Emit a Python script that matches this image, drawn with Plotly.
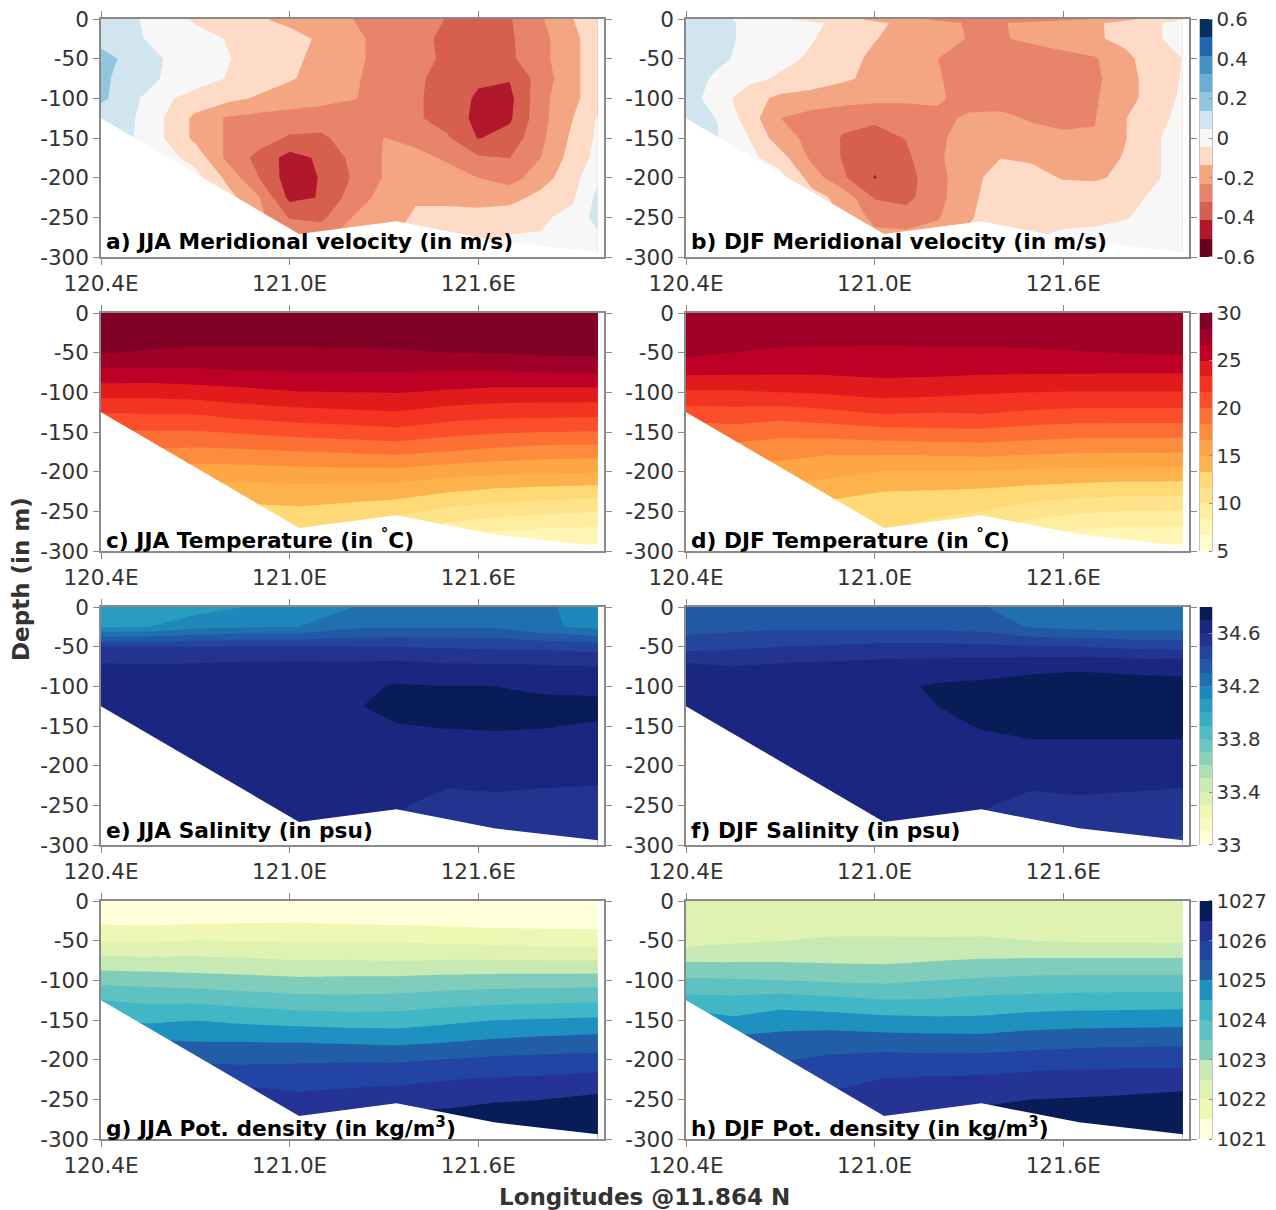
import plotly.graph_objects as go
from plotly.colors import sample_colorscale

depths = [0, -25, -50, -75, -100, -125, -150, -175, -200, -225, -250, -275, -300]
depths_djf_velocity = [0, -5, -25, -50, -75, -100, -125, -150, -175, -200, -225, -250, -275, -300]
lon_fine = [120.4, 120.5, 120.6, 120.7, 120.8, 120.9, 121.0, 121.1, 121.2, 121.3, 121.4, 121.5, 121.6, 121.7, 121.8, 121.9, 121.98]
lon_coarse = [120.4, 120.55, 120.7, 120.85, 121.03, 121.2, 121.34, 121.5, 121.65, 121.8, 121.98]
seafloor_lon = [120.4, 120.71, 121.03, 121.34, 121.65, 121.98]
seafloor_depth = [-125, -197, -271, -255, -279, -294]

jja_velocity = [
    [.10, .06, .00, -.06, -.09, -.13, -.16, -.20, -.23, -.27, -.30, -.325, -.34, -.33, -.24, -.14, -.09],
    [.11, .055, .03, -.01, -.05, -.08, -.11, -.15, -.21, -.26, -.30, -.34, -.36, -.335, -.26, -.16, -.09],
    [.17, .11, .045, .0, -.04, -.08, -.12, -.16, -.21, -.26, -.30, -.335, -.37, -.34, -.26, -.16, -.09],
    [.16, .09, .04, -.005, -.05, -.09, -.13, -.17, -.22, -.26, -.31, -.35, -.40, -.41, -.28, -.16, -.09],
    [.16, .07, -.03, -.08, -.11, -.15, -.18, -.20, -.225, -.26, -.31, -.36, -.43, -.44, -.26, -.16, -.09],
    [.07, .055, -.046, -.16, -.24, -.26, -.27, -.28, -.29, -.29, -.31, -.36, -.44, -.43, -.26, -.14, -.04],
    [.06, .05, -.046, -.16, -.24, -.28, -.335, -.34, -.28, -.23, -.25, -.31, -.42, -.38, -.25, -.12, -.03],
    [0, 0, -.01, -.08, -.25, -.35, -.45, -.40, -.30, -.225, -.21, -.24, -.31, -.325, -.23, -.10, -.02],
    [0, 0, 0, -.01, -.16, -.32, -.46, -.41, -.315, -.225, -.19, -.20, -.231, -.27, -.18, -.08, .03],
    [0, 0, 0, -.02, -.1, -.22, -.44, -.41, -.28, -.20, -.145, -.16, -.18, -.17, -.11, -.06, .07],
    [0, 0, 0, -.02, -.1, -.2, -.33, -.345, -.23, -.17, -.13, -.11, -.1, -.09, -.06, -.02, .08],
    [0, 0, 0, -.01, -.05, -.12, -.25, -.26, -.18, -.15, -.12, -.09, -.06, -.04, -.04, -.01, .03],
    [0, 0, 0, 0, -.02, -.05, -.1, -.1, -.08, -.06, -.05, -.03, -.02, -.02, -.02, -.01, .01],
]
djf_velocity = [
    [.08, .06, .03, -.03, -.08, -.11, -.16, -.2, -.25, -.28, -.3, -.3, -.27, -.22, -.16, -.1, -.05],
    [.09, .07, .03, .0, -.03, -.07, -.12, -.16, -.2, -.24, -.24, -.2, -.17, -.15, -.11, -.05, -.03],
    [.1, .07, .03, .0, -.04, -.09, -.135, -.165, -.2, -.235, -.24, -.21, -.175, -.15, -.115, -.05, -.03],
    [.1, .065, .02, -.02, -.06, -.11, -.155, -.195, -.23, -.26, -.28, -.29, -.27, -.24, -.16, -.08, -.045],
    [.09, .03, -.02, -.06, -.09, -.125, -.16, -.2, -.225, -.26, -.29, -.3, -.28, -.25, -.17, -.09, -.04],
    [.09, .0, -.1, -.16, -.175, -.19, -.205, -.215, -.225, -.245, -.27, -.29, -.28, -.24, -.17, -.09, -.03],
    [.06, .045, -.09, -.23, -.27, -.3, -.31, -.28, -.24, -.225, -.21, -.24, -.26, -.235, -.14, -.07, -.02],
    [.05, .05, -.046, -.19, -.26, -.33, -.35, -.32, -.24, -.21, -.19, -.2, -.21, -.225, -.14, -.05, -.02],
    [0, 0, -.02, -.1, -.25, -.33, -.39, -.34, -.25, -.16, -.14, -.15, -.17, -.18, -.13, -.05, -.02],
    [0, 0, 0, -.01, -.18, -.31, -.42, -.36, -.26, -.17, -.1, -.11, -.145, -.15, -.12, -.05, -.02],
    [0, 0, 0, -.01, -.1, -.17, -.33, -.35, -.26, -.16, -.09, -.09, -.09, -.085, -.07, -.03, -.02],
    [0, 0, 0, -.01, -.08, -.15, -.26, -.28, -.24, -.15, -.08, -.08, -.07, -.06, -.05, -.02, .05],
    [0, 0, 0, 0, -.02, -.1, -.2, -.2, -.18, -.12, -.08, -.05, -.03, -.03, -.02, -.01, 0],
    [0, 0, 0, 0, -.01, -.04, -.08, -.08, -.07, -.05, -.03, -.02, -.01, -.01, -.01, 0, 0],
]
jja_temperature = [
    [29.6, 29.6, 29.6, 29.6, 29.6, 29.6, 29.6, 29.6, 29.6, 29.6, 29.7],
    [29.0, 29.1, 29.0, 29.0, 29.0, 28.9, 28.9, 28.9, 29.1, 29.2, 29.3],
    [28.4, 28.2, 28.0, 28.0, 28.05, 28.17, 28.2, 28.33, 28.4, 28.6, 28.7],
    [26.2, 26.2, 26.3, 26.5, 26.6, 26.6, 26.6, 26.5, 26.5, 26.67, 26.77],
    [24.0, 23.95, 24.2, 24.5, 24.93, 25.0, 25.08, 24.75, 24.5, 24.44, 24.44],
    [21.7, 21.87, 21.9, 22.45, 22.85, 23.1, 23.26, 22.7, 22.4, 22.3, 22.25],
    [19.8, 19.87, 19.87, 20.2, 20.64, 20.88, 21.17, 20.54, 20.2, 20.0, 19.9],
    [18.0, 18.0, 17.9, 18.03, 18.3, 18.52, 18.71, 18.3, 17.85, 17.5, 17.4],
    [16.0, 16.0, 15.9, 15.9, 16.11, 16.17, 16.19, 15.68, 15.45, 15.25, 15.1],
    [14.3, 14.4, 14.2, 14.2, 14.36, 14.18, 14.1, 13.45, 12.95, 12.7, 12.46],
    [12.6, 12.7, 12.6, 12.8, 12.98, 12.6, 12.13, 11.2, 10.71, 10.4, 10.05],
    [11.0, 11.0, 11.0, 11.0, 11.6, 11.0, 10.5, 9.0, 8.3, 8.0, 7.85],
    [9.5, 9.5, 9.5, 9.5, 10.0, 9.5, 9.0, 7.5, 6.5, 6.0, 6.0],
]
djf_temperature = [
    [28.2, 28.2, 28.2, 28.2, 28.2, 28.2, 28.2, 28.2, 28.25, 28.3, 28.3],
    [27.7, 27.6, 27.5, 27.4, 27.3, 27.4, 27.4, 27.6, 27.7, 27.8, 27.9],
    [27.1, 26.65, 26.35, 26.3, 26.3, 26.36, 26.36, 26.4, 26.57, 26.73, 26.8],
    [25.3, 25.25, 25.2, 25.23, 25.4, 25.34, 25.2, 25.15, 25.12, 25.1, 25.1],
    [23.1, 23.15, 23.33, 23.55, 23.96, 23.78, 23.5, 23.33, 23.23, 23.23, 23.23],
    [21.0, 21.1, 20.9, 21.3, 21.9, 21.7, 21.84, 21.46, 21.25, 21.24, 21.24],
    [19.0, 19.3, 18.8, 19.03, 19.4, 19.6, 19.62, 19.26, 19.03, 18.97, 18.97],
    [17.2, 17.5, 17.3, 16.9, 17.0, 17.1, 17.25, 17.0, 16.82, 16.8, 16.75],
    [15.4, 15.7, 15.9, 15.56, 14.9, 14.9, 14.9, 14.7, 14.6, 14.48, 14.48],
    [13.7, 14.0, 14.3, 14.0, 13.33, 13.2, 13.05, 12.66, 12.37, 12.17, 12.12],
    [12.0, 12.3, 12.6, 12.5, 12.4, 12.05, 11.7, 10.63, 10.3, 9.96, 9.9],
    [10.5, 10.7, 11.0, 11.0, 11.6, 10.8, 10.3, 8.9, 8.1, 7.8, 7.8],
    [9.0, 9.0, 9.5, 9.5, 10.0, 9.0, 9.0, 7.0, 6.5, 6.0, 6.0],
]
jja_salinity = [
    [34.04, 34.04, 34.05, 34.10, 34.13, 34.20, 34.24, 34.25, 34.26, 34.22, 34.15],
    [34.09, 34.10, 34.17, 34.19, 34.20, 34.28, 34.29, 34.29, 34.29, 34.22, 34.17],
    [34.51, 34.51, 34.50, 34.50, 34.51, 34.50, 34.50, 34.49, 34.48, 34.48, 34.46],
    [34.62, 34.61, 34.62, 34.63, 34.63, 34.63, 34.64, 34.62, 34.62, 34.61, 34.60],
    [34.64, 34.63, 34.65, 34.65, 34.66, 34.67, 34.71, 34.70, 34.70, 34.68, 34.67],
    [34.65, 34.65, 34.66, 34.66, 34.67, 34.69, 34.73, 34.73, 34.73, 34.73, 34.73],
    [34.65, 34.65, 34.66, 34.66, 34.67, 34.68, 34.695, 34.705, 34.71, 34.705, 34.69],
    [34.65, 34.65, 34.66, 34.66, 34.66, 34.66, 34.67, 34.67, 34.67, 34.67, 34.66],
    [34.65, 34.65, 34.66, 34.66, 34.65, 34.65, 34.64, 34.64, 34.64, 34.64, 34.63],
    [34.65, 34.65, 34.66, 34.66, 34.63, 34.62, 34.61, 34.605, 34.61, 34.605, 34.60],
    [34.65, 34.65, 34.66, 34.66, 34.62, 34.61, 34.61, 34.57, 34.58, 34.57, 34.57],
    [34.65, 34.65, 34.66, 34.66, 34.61, 34.60, 34.59, 34.55, 34.55, 34.54, 34.54],
    [34.65, 34.65, 34.66, 34.66, 34.60, 34.58, 34.54, 34.53, 34.53, 34.52, 34.52],
]
djf_salinity = [
    [34.32, 34.33, 34.33, 34.33, 34.33, 34.33, 34.31, 34.22, 34.22, 34.22, 34.23],
    [34.36, 34.37, 34.38, 34.38, 34.37, 34.37, 34.36, 34.29, 34.27, 34.26, 34.26],
    [34.46, 34.48, 34.50, 34.51, 34.53, 34.53, 34.52, 34.51, 34.50, 34.48, 34.47],
    [34.63, 34.60, 34.62, 34.63, 34.64, 34.65, 34.66, 34.68, 34.69, 34.68, 34.67],
    [34.65, 34.64, 34.65, 34.66, 34.68, 34.71, 34.72, 34.73, 34.73, 34.73, 34.73],
    [34.65, 34.65, 34.66, 34.66, 34.68, 34.70, 34.73, 34.74, 34.74, 34.74, 34.74],
    [34.65, 34.65, 34.66, 34.66, 34.67, 34.68, 34.705, 34.72, 34.72, 34.72, 34.72],
    [34.65, 34.65, 34.66, 34.66, 34.66, 34.67, 34.68, 34.69, 34.69, 34.69, 34.69],
    [34.65, 34.65, 34.66, 34.66, 34.65, 34.66, 34.66, 34.65, 34.66, 34.65, 34.65],
    [34.65, 34.65, 34.66, 34.66, 34.65, 34.64, 34.63, 34.61, 34.62, 34.615, 34.605],
    [34.65, 34.65, 34.66, 34.66, 34.64, 34.63, 34.61, 34.57, 34.58, 34.57, 34.56],
    [34.65, 34.65, 34.66, 34.66, 34.63, 34.62, 34.58, 34.55, 34.55, 34.54, 34.52],
    [34.65, 34.65, 34.66, 34.66, 34.62, 34.61, 34.56, 34.53, 34.52, 34.51, 34.48],
]
jja_density = [
    [21.1, 21.1, 21.1, 21.1, 21.15, 21.15, 21.15, 21.15, 21.15, 21.15, 21.15],
    [21.4, 21.35, 21.4, 21.43, 21.45, 21.4, 21.38, 21.35, 21.3, 21.3, 21.3],
    [21.93, 21.96, 22.01, 21.99, 21.97, 21.96, 21.96, 21.9, 21.84, 21.8, 21.77],
    [22.65, 22.62, 22.62, 22.58, 22.5, 22.52, 22.47, 22.52, 22.52, 22.5, 22.5],
    [23.35, 23.3, 23.22, 23.17, 23.1, 23.12, 23.14, 23.2, 23.23, 23.25, 23.27],
    [24.0, 23.9, 23.9, 23.79, 23.67, 23.65, 23.68, 23.78, 23.84, 23.89, 23.93],
    [24.6, 24.39, 24.49, 24.39, 24.3, 24.25, 24.25, 24.38, 24.49, 24.54, 24.58],
    [25.2, 25.0, 24.96, 24.95, 24.93, 24.87, 24.83, 24.92, 25.03, 25.1, 25.16],
    [25.7, 25.5, 25.4, 25.39, 25.43, 25.44, 25.43, 25.52, 25.6, 25.64, 25.68],
    [26.1, 26.0, 25.9, 25.85, 25.8, 25.85, 25.88, 25.98, 26.05, 26.09, 26.17],
    [26.4, 26.4, 26.3, 26.3, 26.12, 26.2, 26.28, 26.33, 26.44, 26.49, 26.62],
    [26.7, 26.7, 26.6, 26.6, 26.45, 26.53, 26.65, 26.7, 26.8, 26.85, 26.9],
    [26.9, 26.9, 26.9, 26.9, 26.8, 26.85, 26.9, 26.95, 26.98, 26.98, 26.98],
]
djf_density = [
    [22.15, 22.15, 22.15, 22.15, 22.15, 22.15, 22.15, 22.15, 22.15, 22.15, 22.15],
    [22.25, 22.25, 22.25, 22.3, 22.27, 22.28, 22.28, 22.26, 22.25, 22.25, 22.25],
    [22.3, 22.42, 22.49, 22.55, 22.56, 22.55, 22.56, 22.5, 22.45, 22.45, 22.43],
    [22.95, 22.95, 22.96, 22.93, 22.91, 22.99, 23.04, 23.07, 23.08, 23.08, 23.08],
    [23.58, 23.55, 23.5, 23.44, 23.39, 23.5, 23.57, 23.63, 23.66, 23.66, 23.66],
    [24.17, 24.14, 24.24, 24.15, 24.02, 24.04, 24.13, 24.17, 24.2, 24.22, 24.23],
    [24.8, 24.58, 24.78, 24.75, 24.65, 24.6, 24.6, 24.72, 24.77, 24.79, 24.82],
    [25.3, 25.1, 25.16, 25.23, 25.21, 25.19, 25.17, 25.26, 25.3, 25.33, 25.33],
    [25.8, 25.6, 25.46, 25.59, 25.67, 25.64, 25.66, 25.72, 25.79, 25.8, 25.83],
    [26.1, 26.0, 25.85, 25.84, 26.02, 26.08, 26.09, 26.2, 26.22, 26.25, 26.25],
    [26.4, 26.4, 26.25, 26.1, 26.25, 26.32, 26.4, 26.5, 26.53, 26.57, 26.67],
    [26.7, 26.7, 26.6, 26.45, 26.49, 26.59, 26.7, 26.8, 26.82, 26.85, 26.9],
    [26.9, 26.9, 26.9, 26.8, 26.75, 26.85, 26.9, 26.95, 26.96, 26.97, 26.98],
]

velocity_colors = ["#67001f", "#b2182b", "#d6604d", "#e8846a", "#f4a582", "#fddbc7", "#f7f7f7",
                   "#d1e5f0", "#92c5de", "#6cadd2", "#4393c3", "#2166ac", "#053061"]
temperature_colors = ["#ffffcc", "#fff5b5", "#ffeda0", "#fee38b", "#fed976", "#feb24c", "#fea546", "#fd8d3c",
                      "#fd7035", "#fc4e2a", "#f33420", "#e31a1c", "#bd0026", "#9e0027", "#800026"]
salinity_colors = sample_colorscale("YlGnBu", [k / 17 for k in range(18)])
salinity_colors[16] = "#1b2680"
density_colors = ["#ffffd9", "#eff8b2", "#dff2b2", "#c7e9b4", "#80cdbb", "#5fc2c0",
                  "#41b6c4", "#1d91c0", "#225ea8", "#2245a5", "#253494", "#081d58"]

v_ticks = [0.6, 0.4, 0.2, 0, -0.2, -0.4, -0.6]
v_ticktext = ["0.6", "0.4", "0.2", "0", "-0.2", "-0.4", "-0.6"]
t_ticks = [30, 25, 20, 15, 10, 5]
s_ticks = [34.6, 34.2, 33.8, 33.4, 33]
s_ticktext = ["34.6", "34.2", "33.8", "33.4", "33"]
d_ticks = [1027, 1026, 1025, 1024, 1023, 1022, 1021]
depth_ticks = [0, -50, -100, -150, -200, -250, -300]
depth_ticktext = ["0", "-50", "-100", "-150", "-200", "-250", "-300"]
lon_ticks = [120.4, 121.0, 121.6]
lon_ticktext = ["120.4E", "121.0E", "121.6E"]

panels = [
    ("a) JJA Meridional velocity (in m/s)", lon_fine, depths, jja_velocity, 0),
    ("b) DJF Meridional velocity (in m/s)", lon_fine, depths_djf_velocity, djf_velocity, 0),
    ("c) JJA Temperature (in <sup>°</sup>C)", lon_coarse, depths, jja_temperature, 1),
    ("d) DJF Temperature (in <sup>°</sup>C)", lon_coarse, depths, djf_temperature, 1),
    ("e) JJA Salinity (in psu)", lon_coarse, depths, jja_salinity, 2),
    ("f) DJF Salinity (in psu)", lon_coarse, depths, djf_salinity, 2),
    ("g) JJA Pot. density (in kg/m<sup>3</sup>)", lon_coarse, depths, jja_density, 3),
    ("h) DJF Pot. density (in kg/m<sup>3</sup>)", lon_coarse, depths, djf_density, 3),
]
scales = [
    dict(lo=-0.6, hi=0.6, colors=velocity_colors, ticks=v_ticks, text=v_ticktext, off=0),
    dict(lo=5, hi=30, colors=temperature_colors, ticks=t_ticks, text=[str(t) for t in t_ticks], off=0),
    dict(lo=33, hi=34.8, colors=salinity_colors, ticks=s_ticks, text=s_ticktext, off=0),
    dict(lo=21, hi=27, colors=density_colors, ticks=d_ticks, text=[str(t) for t in d_ticks], off=1000),
]

W, H = 1276, 1210
col_px = [(101, 604), (686, 1189)]
row_px = [(19, 257), (313, 551), (607, 845), (901, 1139)]
label_y = [242, 539, 830, 1127]
BAR_L, BAR_R = 1200, 1212
FONT = "DejaVu Sans"
INK = "#333333"
GREY = "#8a8a8a"

fig = go.Figure()
annotations = []
shapes = []
layout_axes = {}
for i, (label, lons, levels_y, z, row) in enumerate(panels):
    col = i % 2
    ax = "" if i == 0 else str(i + 1)
    left, right = col_px[col]
    top, bottom = row_px[row]
    sc = scales[row]
    n = len(sc["colors"])
    size = (sc["hi"] - sc["lo"]) / n
    # plotly colours each band at its own midpoint; the two end stops only reach
    # the half bands plotly adds beyond the colour bar's ends, so they stay white
    cs = [[0, "#ffffff"]] + [[(k + 1) / (n + 1), c] for k, c in enumerate(sc["colors"])] + [[1, "#ffffff"]]
    trace = dict(
        x=lons, y=levels_y, z=[[v + sc["off"] for v in r] for r in z],
        xaxis="x" + ax, yaxis="y" + ax,
        colorscale=cs, autocontour=False, hoverinfo="skip",
        contours=dict(start=sc["lo"] + sc["off"], end=sc["hi"] + sc["off"] + size * 1e-6, size=size,
                      coloring="fill", showlines=False),
        line=dict(width=0, smoothing=0), connectgaps=True,
    )
    if col == 1:
        span = bottom - top
        trace["colorbar"] = dict(
            x=BAR_L / W, xanchor="left", xpad=0, ypad=0, thickness=BAR_R - BAR_L, thicknessmode="pixels",
            y=1 - (top + bottom) / 2 / H, yanchor="middle", len=span * (n + 1) / n, lenmode="pixels",
            outlinewidth=0, borderwidth=0,
            tickmode="array", tickvals=sc["ticks"], ticktext=sc["text"],
            ticks="inside", ticklen=3, tickcolor=GREY, tickfont=dict(family=FONT, size=19.8, color=INK),
        )
        trace["showscale"] = True
        shapes.append(dict(type="rect", xref="paper", yref="paper", x0=BAR_L / W, x1=BAR_R / W,
                           y0=1 - bottom / H, y1=1 - top / H, line=dict(color=GREY, width=1),
                           fillcolor="rgba(0,0,0,0)", layer="above"))
    else:
        trace["showscale"] = False
    fig.add_trace(go.Contour(**trace))
    fig.add_trace(go.Scatter(
        x=[seafloor_lon[0]] + seafloor_lon + [seafloor_lon[-1], seafloor_lon[0]],
        y=[seafloor_depth[0]] + seafloor_depth + [-300, -300],
        xaxis="x" + ax, yaxis="y" + ax, mode="lines", line=dict(width=0, color="white"),
        fill="toself", fillcolor="white", hoverinfo="skip", showlegend=False,
    ))
    common = dict(showline=True, linecolor=GREY, linewidth=1.5, mirror="ticks", ticks="outside", ticklen=6,
                  tickcolor=GREY, tickwidth=1, showgrid=False, zeroline=False,
                  tickfont=dict(family=FONT, size=21.5, color=INK), tickmode="array")
    layout_axes["xaxis" + ax] = dict(common, domain=[left / W, right / W], range=[120.4, 122.0], anchor="y" + ax,
                                     tickvals=lon_ticks, ticktext=lon_ticktext)
    layout_axes["yaxis" + ax] = dict(common, domain=[1 - bottom / H, 1 - top / H], range=[-300, 0], anchor="x" + ax,
                                     tickvals=depth_ticks, ticktext=depth_ticktext)
    annotations.append(dict(text=label, xref="paper", yref="paper", x=(left + 3) / W, y=1 - label_y[row] / H,
                            xanchor="left", yanchor="middle", showarrow=False,
                            font=dict(family=FONT, size=21.7, color="black", weight="bold")))

annotations.append(dict(text="Depth (in m)", xref="paper", yref="paper", x=21 / W, y=1 - 579 / H, textangle=-90,
                        xanchor="center", yanchor="middle", showarrow=False,
                        font=dict(family=FONT, size=23, color=INK, weight="bold")))
annotations.append(dict(text="Longitudes @11.864 N", xref="paper", yref="paper", x=645 / W, y=1 - 1197 / H,
                        xanchor="center", yanchor="middle", showarrow=False,
                        font=dict(family=FONT, size=23, color=INK, weight="bold")))

fig.update_layout(width=W, height=H, margin=dict(l=0, r=0, t=0, b=0, autoexpand=False),
                  paper_bgcolor="white", plot_bgcolor="white",
                  showlegend=False, annotations=annotations, shapes=shapes, **layout_axes)
fig.write_html("out.html", config={"displayModeBar": False}, post_script="document.body.style.margin='0';")
